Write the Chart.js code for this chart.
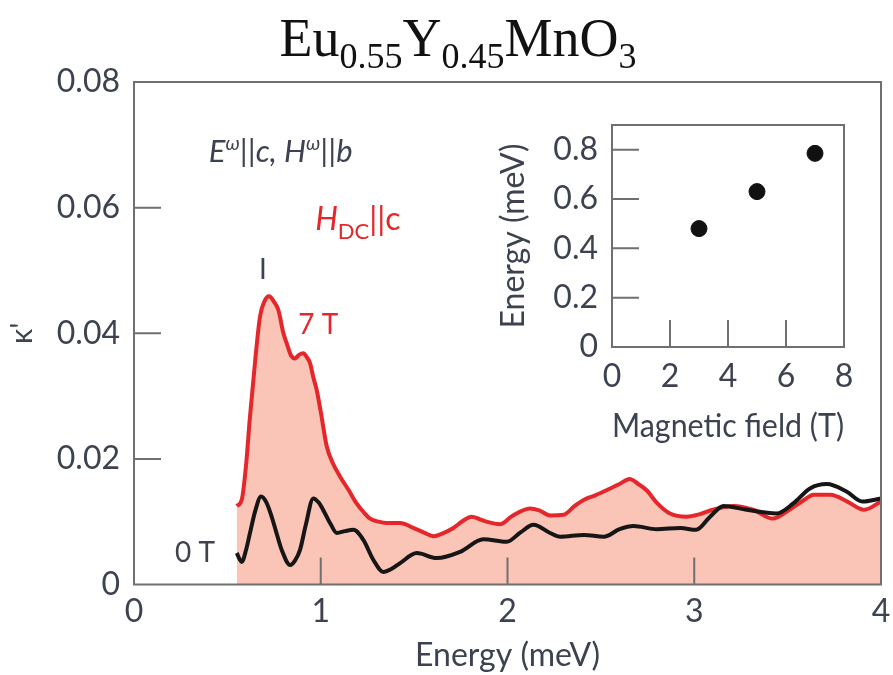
<!DOCTYPE html>
<html>
<head>
<meta charset="utf-8">
<script src="https://cdn.jsdelivr.net/npm/chart.js@4.4.0/dist/chart.umd.min.js"></script>
<style>
  body { margin: 0; background: #fff; }
  #wrap { position: relative; width: 893px; height: 675px; }
  #title { position: absolute; left: 0; top: 11px; width: 916px; text-align: center;
           font-family: "Liberation Serif", "DejaVu Serif", serif; font-size: 54px; line-height: 54px; color: #111; }
  #title span { font-size: 36px; position: relative; top: 12px; line-height: 0; }
  #main { position: absolute; left: 0; top: 0; }
  #inset { position: absolute; left: 480px; top: 100px; }
</style>
</head>
<body>
<div id="wrap">
  <canvas id="main" width="893" height="675"></canvas>
  <canvas id="inset" width="410" height="360"></canvas>
  <div id="title">Eu<span>0.55</span>Y<span>0.45</span>MnO<span>3</span></div>
</div>
<script>
// 7 T curve (red, filled)
const field7_x = [0.55, 0.577, 0.60, 0.621, 0.65, 0.675, 0.70, 0.723, 0.75, 0.773, 0.80, 0.818, 0.84, 0.862, 0.885,
  0.907, 0.925, 0.943, 0.96, 0.978, 1.0, 1.032, 1.065, 1.103, 1.15, 1.192, 1.23, 1.264, 1.31, 1.353, 1.425, 1.496,
  1.55, 1.603, 1.65, 1.71, 1.76, 1.808, 1.85, 1.888, 1.96, 2.02, 2.068, 2.12, 2.17, 2.228, 2.3, 2.36, 2.41, 2.47,
  2.53, 2.6, 2.655, 2.70, 2.745, 2.80, 2.87, 2.96, 3.03, 3.10, 3.21, 3.315, 3.42, 3.51, 3.58, 3.64, 3.73, 3.82, 3.91, 4.0]
const field7_y = [0.0125, 0.0135, 0.019, 0.0267, 0.036, 0.0427, 0.0452, 0.0459, 0.045, 0.0437, 0.040, 0.0384, 0.0365, 0.036, 0.0366,
  0.0368, 0.0362, 0.0352, 0.033, 0.031, 0.0275, 0.022, 0.0193, 0.0172, 0.015, 0.0129, 0.0115, 0.0105, 0.010, 0.0098, 0.0098, 0.009,
  0.0083, 0.0077, 0.0081, 0.009, 0.0101, 0.0108, 0.0104, 0.010, 0.0096, 0.0108, 0.0116, 0.0121, 0.0118, 0.011, 0.0111, 0.0125, 0.0135, 0.0142,
  0.015, 0.016, 0.0168, 0.016, 0.015, 0.013, 0.0113, 0.0108, 0.0112, 0.0119, 0.0125, 0.0119, 0.0105, 0.0119, 0.0133, 0.0143, 0.0143, 0.0132, 0.0119, 0.0132]

// 0 T curve (black)
const field0_x = [0.55, 0.577, 0.60, 0.621, 0.65, 0.68, 0.71, 0.737, 0.765, 0.791, 0.836, 0.862, 0.889, 0.92, 0.96, 0.99,
  1.023, 1.055, 1.086, 1.13, 1.175, 1.228, 1.282, 1.335, 1.38, 1.425, 1.514, 1.621, 1.746, 1.871, 1.996, 2.07, 2.139,
  2.228, 2.282, 2.41, 2.515, 2.6, 2.675, 2.8, 2.925, 3.01, 3.085, 3.157, 3.28, 3.44, 3.53, 3.62, 3.71, 3.815, 3.9, 4.0]
const field0_y = [0.005, 0.0036, 0.0055, 0.0082, 0.0118, 0.014, 0.013, 0.0108, 0.008, 0.0055, 0.0031, 0.0038, 0.0055, 0.0095, 0.0137, 0.013,
  0.0113, 0.0095, 0.0082, 0.0085, 0.0087, 0.0071, 0.0039, 0.002, 0.0025, 0.0034, 0.005, 0.0042, 0.0052, 0.0072, 0.0068, 0.0083, 0.0095,
  0.0082, 0.0076, 0.0079, 0.0076, 0.0088, 0.0093, 0.0088, 0.009, 0.0087, 0.0108, 0.0125, 0.0119, 0.0113, 0.0129, 0.0153, 0.016, 0.0148, 0.0132, 0.0137]

// inset: mode energy vs magnetic field
const inset_field = [3, 5, 7]
const inset_energy = [0.48, 0.63, 0.785]

const main_xticks = [1, 2, 3]
const main_yticks = [0.02, 0.04, 0.06]
const inset_xticks = [2, 4, 6]
const inset_yticks = [0.2, 0.4, 0.6, 0.8]

const TXT = '#3d4250'
const RED = '#e5262b'
const FONT = 'Lato, "Open Sans", sans-serif'

const toPoints = (xs, ys) => xs.map((x, i) => ({ x: x, y: ys[i] }))

// the plot box is placed by layout padding only, not by label overhang
function noOverhang(s) {
  s.paddingLeft = 0
  s.paddingRight = 0
  s.paddingTop = 0
  s.paddingBottom = 0
}

// box around the plot area plus short ticks pointing inwards
const framePlugin = {
  id: 'frame',
  afterDraw(chart, args, opts) {
    const { ctx, chartArea: a, scales } = chart
    ctx.save()
    ctx.strokeStyle = '#707070'
    ctx.lineWidth = 2
    ctx.strokeRect(a.left, a.top, a.right - a.left, a.bottom - a.top)
    ctx.beginPath()
    opts.x.forEach(v => {
      const px = scales.x.getPixelForValue(v)
      ctx.moveTo(px, a.bottom)
      ctx.lineTo(px, a.bottom - opts.len)
    })
    opts.y.forEach(v => {
      const py = scales.y.getPixelForValue(v)
      ctx.moveTo(a.left, py)
      ctx.lineTo(a.left + opts.len, py)
    })
    ctx.stroke()
    ctx.restore()
  }
}

function drawRich(ctx, x, y, parts) {
  parts.forEach(p => {
    ctx.font = p.font
    ctx.fillStyle = p.color
    ctx.fillText(p.t, x, y + (p.dy || 0))
    x += ctx.measureText(p.t).width + (p.gap || 0)
  })
}

const labelsPlugin = {
  id: 'labels',
  afterDatasetsDraw(chart) {
    const { ctx, scales } = chart
    const X = v => scales.x.getPixelForValue(v)
    const Y = v => scales.y.getPixelForValue(v)
    ctx.save()
    ctx.textBaseline = 'alphabetic'
    ctx.textAlign = 'left'
    const it = 'italic 31px ' + FONT
    const sup = 'italic 20px ' + FONT
    drawRich(ctx, X(0.40), Y(0.0672), [
      { t: 'E', font: it, color: TXT },
      { t: 'ω', font: sup, color: TXT, dy: -12 },
      { t: '||c, H', font: it, color: TXT },
      { t: 'ω', font: sup, color: TXT, dy: -12 },
      { t: '||b', font: it, color: TXT }
    ])
    drawRich(ctx, X(0.97), Y(0.0565), [
      { t: 'H', font: 'italic 32px ' + FONT, color: RED },
      { t: 'DC', font: '22px ' + FONT, color: RED, dy: 9 },
      { t: '||c', font: '32px ' + FONT, color: RED }
    ])
    ctx.textBaseline = 'middle'
    ctx.font = '28px ' + FONT
    ctx.fillStyle = TXT
    ctx.textAlign = 'center'
    ctx.fillText('I', X(0.69), Y(0.050))
    ctx.textAlign = 'left'
    ctx.fillStyle = RED
    ctx.fillText('7 T', X(0.88), Y(0.0413))
    ctx.fillStyle = TXT
    ctx.fillText('0 T', X(0.22), Y(0.005))
    ctx.restore()
  }
}

const chart_main = new Chart(document.getElementById('main'), {
  type: 'line',
  data: {
    datasets: [
      {
        label: '0 T',
        data: toPoints(field0_x, field0_y),
        borderColor: '#161616',
        borderWidth: 4,
        pointRadius: 0,
        fill: false,
        cubicInterpolationMode: 'monotone'
      },
      {
        label: '7 T',
        data: toPoints(field7_x, field7_y),
        borderColor: RED,
        borderWidth: 4,
        backgroundColor: 'rgb(250, 196, 182)',
        pointRadius: 0,
        fill: 'origin',
        cubicInterpolationMode: 'monotone'
      }
    ]
  },
  options: {
    responsive: false,
    animation: false,
    layout: { padding: { left: 0, top: 82, right: 12, bottom: 0 } },
    plugins: {
      legend: { display: false },
      tooltip: { enabled: false },
      frame: { x: main_xticks, y: main_yticks, len: 27 }
    },
    scales: {
      x: {
        type: 'linear', min: 0, max: 4,
        grid: { display: false, drawTicks: false },
        border: { display: false },
        ticks: { stepSize: 1, color: TXT, font: { family: FONT, size: 32 }, padding: 8 },
        title: { display: true, text: 'Energy (meV)', color: TXT, font: { family: FONT, size: 32 }, padding: { top: 0, bottom: 0 } },
        afterFit(s) { s.height = 675 - 584.5; noOverhang(s) }
      },
      y: {
        min: 0, max: 0.08,
        grid: { display: false, drawTicks: false },
        border: { display: false },
        ticks: {
          stepSize: 0.02, color: TXT, font: { family: FONT, size: 32 }, padding: 14,
          callback: v => v === 0 ? '0' : v.toFixed(2)
        },
        title: { display: true, text: 'κ\'', color: TXT, font: { family: FONT, size: 30 }, padding: { top: 4, bottom: 0 } },
        afterFit(s) { s.width = 134; noOverhang(s) }
      }
    }
  },
  plugins: [framePlugin, labelsPlugin]
})

const chart_inset = new Chart(document.getElementById('inset'), {
  type: 'scatter',
  data: {
    datasets: [{
      data: toPoints(inset_field, inset_energy),
      backgroundColor: '#111',
      borderColor: '#111',
      pointRadius: 8
    }]
  },
  options: {
    responsive: false,
    animation: false,
    layout: { padding: { left: 0, top: 25, right: 46, bottom: 0 } },
    plugins: {
      legend: { display: false },
      tooltip: { enabled: false },
      frame: { x: inset_xticks, y: inset_yticks, len: 27 }
    },
    scales: {
      x: {
        type: 'linear', min: 0, max: 8,
        grid: { display: false, drawTicks: false },
        border: { display: false },
        ticks: { stepSize: 2, color: TXT, font: { family: FONT, size: 32 }, padding: 10 },
        title: { display: true, text: 'Magnetic field (T)', color: TXT, font: { family: FONT, size: 32 }, padding: { top: 0, bottom: 14 } },
        afterFit(s) { s.height = 113; noOverhang(s) }
      },
      y: {
        min: 0, max: 0.9,
        grid: { display: false, drawTicks: false },
        border: { display: false },
        ticks: {
          stepSize: 0.2, includeBounds: false, color: TXT, font: { family: FONT, size: 32 }, padding: 14,
          callback: v => v === 0 ? '0' : v.toFixed(1)
        },
        title: { display: true, text: 'Energy (meV)', color: TXT, font: { family: FONT, size: 32 }, padding: { top: 14, bottom: 0 } },
        afterFit(s) { s.width = 132; noOverhang(s) }
      }
    }
  },
  plugins: [framePlugin]
})
</script>
</body>
</html>
